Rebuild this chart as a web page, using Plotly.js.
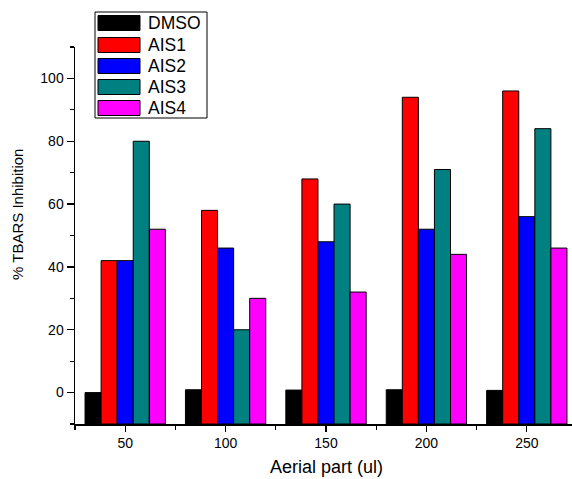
<!DOCTYPE html>
<html>
<head>
<meta charset="utf-8">
<script src="https://cdn.plot.ly/plotly-3.0.1.min.js"></script>
<style>html,body{margin:0;padding:0;overflow:hidden;background:#fff}#chart{width:572px;height:479px}</style>
</head>
<body>
<div id="chart"></div>
<script>
// ---- data ----
const doses = [50, 100, 150, 200, 250];
const seriesNames = ["DMSO", "AIS1", "AIS2", "AIS3", "AIS4"];
const seriesColors = ["#000000", "#FF0000", "#0000FF", "#008080", "#FF00FF"];
const dmso = [0.0, 0.9, 0.8, 0.9, 0.7];
const ais1 = [42, 58, 68, 94, 96];
const ais2 = [42, 46, 48, 52, 56];
const ais3 = [80, 20, 60, 71, 84];
const ais4 = [52, 30, 32, 44, 46];
const allValues = [dmso, ais1, ais2, ais3, ais4];

// ---- layout geometry (pixels) ----
const W = 572, H = 479;
const M = {l: 75, r: 0, t: 47, b: 55};
const PW = W - M.l - M.r, PH = H - M.t - M.b;
const px2x = x => (x - M.l) / PW;
const px2y = y => (H - M.b - y) / PH;
const FONT = "Liberation Sans, Arial, sans-serif";
const Y_MIN = -10, Y_MAX = 110;

// bars are drawn up from the bottom of the axis (as in the original), ending at the value
const traces = allValues.map((vals, i) => ({
  type: "bar",
  name: seriesNames[i],
  x: doses,
  base: Y_MIN,
  y: vals.map(v => v - Y_MIN),
  customdata: vals,
  hovertemplate: "%{x}: %{customdata}<extra>" + seriesNames[i] + "</extra>",
  marker: {color: seriesColors[i], line: {color: "#000", width: 1}},
  showlegend: false
}));

// custom legend (wide swatches like the original)
const shapes = [{
  type: "rect", xref: "paper", yref: "paper",
  x0: px2x(95), x1: px2x(207), y0: px2y(118), y1: px2y(12),
  line: {color: "#000", width: 1}, fillcolor: "rgba(0,0,0,0)"
}];
const annotations = [];
const rowCenters = [23, 45, 66, 87, 108];
seriesNames.forEach((n, i) => {
  const c = rowCenters[i];
  shapes.push({
    type: "rect", xref: "paper", yref: "paper",
    x0: px2x(98), x1: px2x(140), y0: px2y(c + 7.5), y1: px2y(c - 7.5),
    line: {color: "#000", width: 1}, fillcolor: seriesColors[i]
  });
  annotations.push({
    xref: "paper", yref: "paper", x: px2x(146), y: px2y(c),
    xanchor: "left", yanchor: "middle", showarrow: false,
    text: n, font: {family: FONT, size: 17.5, color: "#000"}
  });
});
annotations.push({
  xref: "paper", yref: "paper", x: px2x(326), y: px2y(467),
  xanchor: "center", yanchor: "middle", showarrow: false,
  text: "Aerial part (ul)", font: {family: FONT, size: 18, color: "#000"}
});
annotations.push({
  xref: "paper", yref: "paper", x: px2x(18), y: px2y(215),
  xanchor: "center", yanchor: "middle", showarrow: false, textangle: -90,
  text: "% TBARS Inhibition", font: {family: FONT, size: 15, color: "#000"}
});

const layout = {
  width: W, height: H,
  margin: M,
  paper_bgcolor: "#fff", plot_bgcolor: "#fff",
  barmode: "group", bargap: 0.2, bargroupgap: 0,
  font: {family: FONT, color: "#000"},
  xaxis: {
    range: [25, 25 + PW / (100.4 / 50)],
    tickmode: "linear", tick0: 0, dtick: 50,
    showline: true, linecolor: "#000", linewidth: 1.5,
    ticks: "outside", ticklen: 6, tickwidth: 1.2, tickcolor: "#000",
    minor: {ticks: "outside", ticklen: 4, tickwidth: 1.2, tickcolor: "#000", tick0: 0, dtick: 25},
    showgrid: false, zeroline: false,
    tickfont: {family: FONT, size: 14, color: "#000"}
  },
  yaxis: {
    range: [Y_MIN, Y_MAX],
    tickmode: "linear", tick0: 0, dtick: 20,
    showline: true, linecolor: "#000", linewidth: 1.5,
    ticks: "outside", ticklen: 7, tickwidth: 1.2, tickcolor: "#000",
    minor: {ticks: "outside", ticklen: 4, tickwidth: 1.2, tickcolor: "#000", tick0: 0, dtick: 10},
    showgrid: false, zeroline: false,
    tickfont: {family: FONT, size: 14, color: "#000"}
  },
  shapes: shapes,
  annotations: annotations
};

Plotly.newPlot("chart", traces, layout, {staticPlot: true, displayModeBar: false});
</script>
</body>
</html>
